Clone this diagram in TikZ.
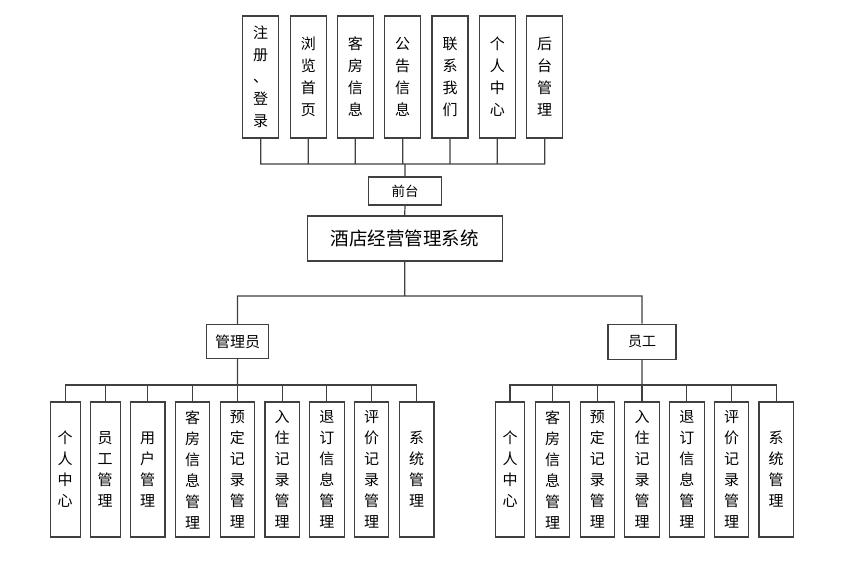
\documentclass[tikz,border=0pt]{standalone}
\usepackage{fontspec}
\setmainfont{Noto Sans CJK SC}
\usetikzlibrary{positioning}
\definecolor{linegray}{RGB}{64,64,64}

\begin{document}
\begin{tikzpicture}[x=1pt,y=-1pt,
    box/.style={draw=linegray,line width=1.1pt,fill=white,inner sep=0pt,align=center},
    top box/.style={box,minimum width=36pt,minimum height=122pt,font=\fontsize{15}{22}\selectfont},
    sub box/.style={box,minimum width=34.5pt,minimum height=135pt,font=\fontsize{15}{21}\selectfont},
    link/.style={draw=linegray,line width=1.2pt}]
    \useasboundingbox (0,0) rectangle (856,570);

    % front end pages
    \node[top box] (t1) at (260.7,77) {注\\册\\、\\登\\录};
    \node[top box] (t2) at (308.3,77) {浏\\览\\首\\页};
    \node[top box] (t3) at (355.3,77) {客\\房\\信\\息};
    \node[top box] (t4) at (402.7,77) {公\\告\\信\\息};
    \node[top box] (t5) at (450,77) {联\\系\\我\\们};
    \node[top box] (t6) at (497.3,77) {个\\人\\中\\心};
    \node[top box] (t7) at (544.7,77) {后\\台\\管\\理};
    \node[box,minimum width=73pt,minimum height=28pt,font=\fontsize{13.5}{16}\selectfont] (front) at (405,191) {前台};
    \node[box,minimum width=195pt,minimum height=45pt,font=\fontsize{18.5}{22}\selectfont] (sys) at (404.7,238.5) {酒店经营管理系统};
    \node[box,minimum width=62pt,minimum height=34pt,font=\fontsize{15}{18}\selectfont] (admin) at (237.5,341.5) {管理员};
    \node[box,minimum width=68pt,minimum height=35pt,font=\fontsize{14}{17}\selectfont] (staff) at (642,341.7) {员工};

    % admin modules
    \node[sub box,minimum width=29.7pt] (a1) at (65.2,469.5) {个\\人\\中\\心};
    \node[sub box,minimum width=29.7pt] (a2) at (105.2,469.5) {员\\工\\管\\理};
    \node[sub box] (a3) at (147.7,469.5) {用\\户\\管\\理};
    \node[sub box] (a4) at (192.5,469.5) {客\\房\\信\\息\\管\\理};
    \node[sub box] (a5) at (237.3,469.5) {预\\定\\记\\录\\管\\理};
    \node[sub box] (a6) at (282.2,469.5) {入\\住\\记\\录\\管\\理};
    \node[sub box] (a7) at (326.8,469.5) {退\\订\\信\\息\\管\\理};
    \node[sub box] (a8) at (371.5,469.5) {评\\价\\记\\录\\管\\理};
    \node[sub box] (a9) at (416.7,469.5) {系\\统\\管\\理};

    % staff modules
    \node[sub box,minimum width=29.4pt] (s1) at (510,469.5) {个\\人\\中\\心};
    \node[sub box] (s2) at (552.5,469.5) {客\\房\\信\\息\\管\\理};
    \node[sub box] (s3) at (597.3,469.5) {预\\定\\记\\录\\管\\理};
    \node[sub box] (s4) at (642,469.5) {入\\住\\记\\录\\管\\理};
    \node[sub box] (s5) at (686.8,469.5) {退\\订\\信\\息\\管\\理};
    \node[sub box] (s6) at (731.5,469.5) {评\\价\\记\\录\\管\\理};
    \node[sub box] (s7) at (776.2,469.5) {系\\统\\管\\理};

    % bus points
    \coordinate (front bus) at (405,164);
    \coordinate (sys bus) at (404.7,296);
    \coordinate (admin bus) at (237.5,385);
    \coordinate (staff bus) at (642,385);

    \path[link]
    (t1.south) |- (front bus)
    (t2.south) |- (front bus)
    (t3.south) |- (front bus)
    (t4.south) |- (front bus)
    (t5.south) |- (front bus)
    (t6.south) |- (front bus)
    (t7.south) |- (front bus)
    (front.north) -- (front bus)
    (front.south) -- (sys.north)
    (sys.south) -- (sys bus)
    (admin.north) |- (sys bus)
    (staff.north) |- (sys bus)
    (admin.south) -- (admin bus)
    (staff.south) -- (staff bus);

    \foreach \m in {a1,a2,a3,a4,a5,a6,a7,a8,a9}
      \draw[link] (\m.north) |- (admin bus);
    \foreach \m in {s1,s2,s3,s4,s5,s6,s7}
      \draw[link] (\m.north) |- (staff bus);
\end{tikzpicture}
\end{document}
